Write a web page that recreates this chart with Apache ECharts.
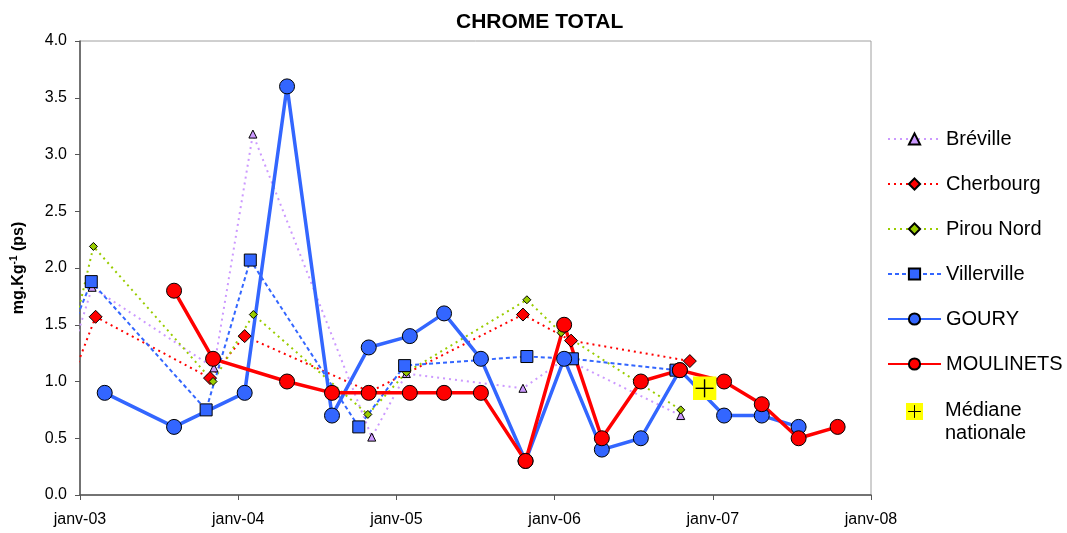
<!DOCTYPE html>
<html>
<head>
<meta charset="utf-8">
<title>CHROME TOTAL</title>
<script src="https://cdn.jsdelivr.net/npm/echarts@6/dist/echarts.min.js"></script>
<style>
  html, body { margin: 0; padding: 0; background: #fff; }
  #main { width: 1067px; height: 533px; }
</style>
</head>
<body>
<div id="main"></div>
<script>
// les valeurs (mg.Kg-1 ps)
// premier point des séries pointillées = avant janv-03, marqueur caché
var brevilleDates = ['2002-12-08', '2003-01-29', '2003-11-06', '2004-02-04', '2004-11-05', '2005-01-24', '2005-10-20', '2006-01-25', '2006-10-19'];
var brevilleValues = [1.19, 1.83, 1.12, 3.18, 0.51, 1.07, 0.94, 1.2, 0.7];

var cherbourgDates = ['2002-12-08', '2003-02-06', '2003-10-28', '2004-01-16', '2004-11-01', '2005-10-20', '2006-02-08', '2006-11-09'];
var cherbourgValues = [0.97, 1.57, 1.03, 1.4, 0.91, 1.59, 1.36, 1.18];

var pirouDates = ['2002-12-08', '2003-02-01', '2003-11-04', '2004-02-05', '2004-10-27', '2005-01-24', '2005-10-29', '2006-01-16', '2006-10-19'];
var pirouValues = [1.29, 2.19, 1.0, 1.59, 0.71, 1.08, 1.72, 1.43, 0.75];

var villervilleDates = ['2002-12-08', '2003-01-27', '2003-10-19', '2004-01-29', '2004-10-06', '2005-01-20', '2005-10-29', '2006-02-11', '2006-10-08'];
var villervilleValues = [1.41, 1.88, 0.75, 2.07, 0.6, 1.14, 1.22, 1.2, 1.1];

var gouryDates = ['2003-02-27', '2003-08-06', '2004-01-16', '2004-04-23', '2004-08-05', '2004-10-29', '2005-02-01', '2005-04-21', '2005-07-15', '2005-10-26', '2006-01-23', '2006-04-20', '2006-07-19', '2006-10-17', '2007-01-27', '2007-04-24', '2007-07-18'];
var gouryValues = [0.9, 0.6, 0.9, 3.6, 0.7, 1.3, 1.4, 1.6, 1.2, 0.3, 1.2, 0.4, 0.5, 1.1, 0.7, 0.7, 0.6];

var moulinetsDates = ['2003-08-06', '2003-11-04', '2004-04-23', '2004-08-05', '2004-10-29', '2005-02-01', '2005-04-21', '2005-07-15', '2005-10-26', '2006-01-23', '2006-04-20', '2006-07-19', '2006-10-17', '2007-01-27', '2007-04-24', '2007-07-18', '2007-10-16'];
var moulinetsValues = [1.8, 1.2, 1.0, 0.9, 0.9, 0.9, 0.9, 0.9, 0.3, 1.5, 0.5, 1.0, 1.1, 1.0, 0.8, 0.5, 0.6];

var medianeDates = ['2006-12-13'];
var medianeValues = [0.94];

var yearTicks = [2003, 2004, 2005, 2006, 2007, 2008];

var FONT = 'Liberation Sans, Arial, sans-serif';

// date -> année décimale (axe linéaire en années)
function toYear(s) {
  var d = new Date(s + 'T00:00:00Z');
  var y = d.getUTCFullYear();
  var start = Date.UTC(y, 0, 1);
  var end = Date.UTC(y + 1, 0, 1);
  return y + (d.getTime() - start) / (end - start);
}

function pairs(dates, values, hideFirst) {
  return dates.map(function (d, i) {
    var item = { value: [toYear(d), values[i]] };
    if (hideFirst && i === 0) item.symbol = 'none';
    return item;
  });
}

// carré jaune avec croix noire
var medianeIcon = 'image://data:image/svg+xml;charset=utf-8,' + encodeURIComponent(
  '<svg xmlns="http://www.w3.org/2000/svg" width="24" height="24">' +
  '<rect width="24" height="24" fill="#ffff00"/>' +
  '<rect x="11.3" y="3" width="1.4" height="18" fill="#000"/>' +
  '<rect x="3" y="11.3" width="18" height="1.4" fill="#000"/></svg>');

function dotted(name, dates, values, color, symbol, size, dash) {
  return {
    name: name,
    type: 'line',
    data: pairs(dates, values, true),
    clip: false,
    symbol: symbol,
    symbolSize: size,
    lineStyle: { color: color, width: 2, type: dash },
    itemStyle: { color: color, borderColor: '#000', borderWidth: 1 },
    emphasis: { disabled: true },
    animation: false
  };
}

function solid(name, dates, values, color) {
  return {
    name: name,
    type: 'line',
    data: pairs(dates, values, false),
    symbol: 'circle',
    symbolSize: 15,
    lineStyle: { color: color, width: 3.5 },
    itemStyle: { color: color, borderColor: '#000', borderWidth: 1 },
    emphasis: { disabled: true },
    animation: false
  };
}

var myChart = echarts.init(document.getElementById('main'));

var option = {
  backgroundColor: '#fff',
  textStyle: { fontFamily: FONT },
  title: {
    text: 'CHROME TOTAL',
    left: 451,
    top: 7,
    textStyle: { fontFamily: FONT, fontSize: 21, fontWeight: 'bold', color: '#000' }
  },
  grid: {
    left: 80,
    right: 196,
    top: 41,
    bottom: 38,
    show: true,
    borderColor: '#a0a0a0',
    borderWidth: 1
  },
  legend: {
    orient: 'vertical',
    left: 882,
    top: 124,
    itemWidth: 53,
    itemHeight: 14,
    itemGap: 25,
    textStyle: { fontFamily: FONT, fontSize: 20, color: '#000' },
    data: ['Bréville', 'Cherbourg', 'Pirou Nord', 'Villerville', 'GOURY', 'MOULINETS']
  },
  // entrée de légende pour la médiane (deux lignes)
  graphic: [
    {
      type: 'image',
      left: 906,
      top: 403,
      style: { image: medianeIcon.replace('image://', ''), width: 17, height: 17 }
    },
    {
      type: 'text',
      left: 945,
      top: 399,
      style: {
        text: 'Médiane\nnationale',
        font: '20px ' + FONT,
        lineHeight: 23,
        fill: '#000'
      }
    }
  ],
  xAxis: {
    type: 'value',
    min: 2003,
    max: 2008,
    interval: 1,
    splitLine: { show: false },
    axisLine: { lineStyle: { color: '#555', width: 1.5 } },
    axisTick: { show: true, length: 5, lineStyle: { color: '#555' } },
    axisLabel: {
      margin: 17,
      fontFamily: FONT,
      fontSize: 16,
      color: '#000',
      formatter: function (v) {
        return yearTicks.indexOf(v) >= 0 ? 'janv-' + String(v).slice(2) : '';
      }
    }
  },
  yAxis: {
    type: 'value',
    min: 0,
    max: 4,
    interval: 0.5,
    splitLine: { show: false },
    axisLine: { show: true, lineStyle: { color: '#555', width: 1.5 } },
    axisTick: { show: true, length: 5, lineStyle: { color: '#555' } },
    axisLabel: {
      margin: 13,
      fontFamily: FONT,
      fontSize: 16,
      color: '#000',
      formatter: function (v) { return v.toFixed(1); }
    },
    name: 'mg.Kg{sup|-1} (ps)',
    nameLocation: 'middle',
    nameRotate: 90,
    nameGap: 52,
    nameTextStyle: {
      fontFamily: FONT,
      fontSize: 16,
      fontWeight: 'bold',
      color: '#000',
      rich: {
        sup: { fontFamily: FONT, fontSize: 10, fontWeight: 'bold', color: '#000', verticalAlign: 'top', padding: [0, 0, 9, 0] }
      }
    }
  },
  series: [
    dotted('Bréville', brevilleDates, brevilleValues, '#cc99ff', 'triangle', 8, [2, 4]),
    dotted('Cherbourg', cherbourgDates, cherbourgValues, '#ff0000', 'diamond', 13, [2, 4]),
    dotted('Pirou Nord', pirouDates, pirouValues, '#99cc00', 'diamond', 8, [2, 4]),
    dotted('Villerville', villervilleDates, villervilleValues, '#3366ff', 'rect', 12, [4, 3]),
    solid('GOURY', gouryDates, gouryValues, '#3366ff'),
    solid('MOULINETS', moulinetsDates, moulinetsValues, '#ff0000'),
    {
      name: 'Médiane nationale',
      type: 'scatter',
      z: 5,
      data: pairs(medianeDates, medianeValues, false),
      symbol: medianeIcon,
      symbolSize: 24,
      itemStyle: { opacity: 1 },
      emphasis: { disabled: true },
      animation: false
    }
  ]
};

myChart.setOption(option);
</script>
</body>
</html>
